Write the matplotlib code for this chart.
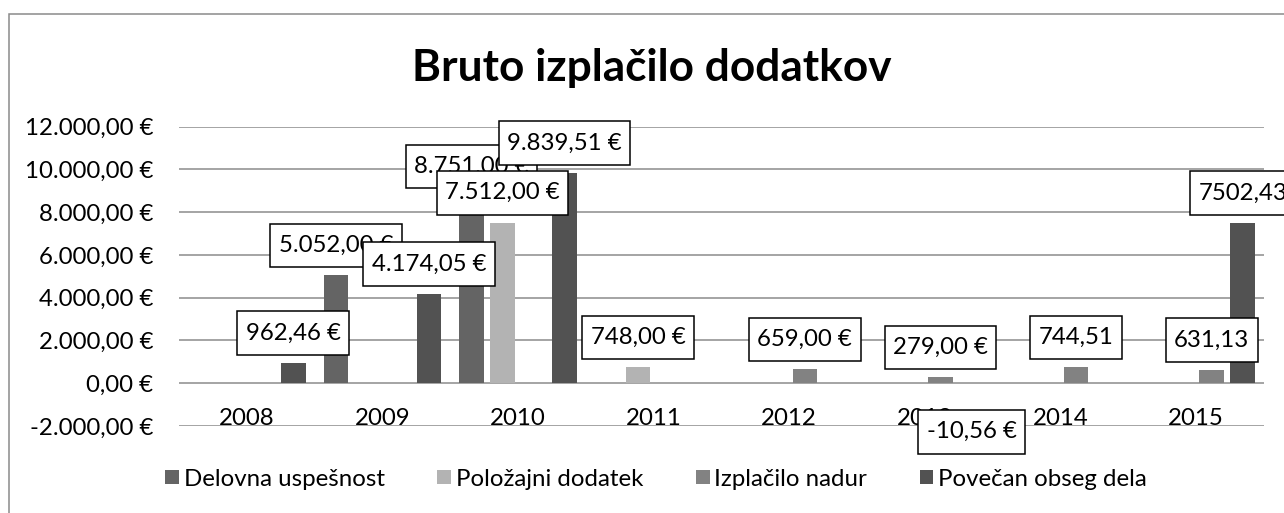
import numpy as np
import matplotlib
matplotlib.use("Agg")
import matplotlib.pyplot as plt
from matplotlib.patches import Rectangle
from matplotlib.path import Path
from matplotlib.ticker import FuncFormatter

# podatki
years = ["2008", "2009", "2010", "2011", "2012", "2013", "2014", "2015"]
series_names = ["Delovna uspešnost", "Položajni dodatek", "Izplačilo nadur", "Povečan obseg dela"]
nan = np.nan
delovna = [nan, 5052.00, 8751.00, nan, nan, nan, nan, nan]
polozajni = [nan, nan, 7512.00, 748.00, nan, nan, nan, nan]
nadure = [nan, nan, nan, nan, 659.00, 279.00, 744.51, 631.13]
obseg = [962.46, 4174.05, 9839.51, nan, nan, -10.56, nan, 7502.43]

# oznake podatkov, kot so v izvirni tabeli
delovna_lbl = [None, "5.052,00 €", "8.751,00 €", None, None, None, None, None]
polozajni_lbl = [None, None, "7.512,00 €", "748,00 €", None, None, None, None]
nadure_lbl = [None, None, None, None, "659,00 €", "279,00 €", "744,51", "631,13"]
obseg_lbl = ["962,46 €", "4.174,05 €", "9.839,51 €", None, None, "-10,56 €", None, "7502,43"]

y_ticks = [-2000, 0, 2000, 4000, 6000, 8000, 10000, 12000]
colors = ["#646464", "#b3b3b3", "#828282", "#525252"]

plt.rcParams["font.family"] = ["Lato", "DejaVu Sans"]
FS = 17.3  # pt


def eur_fmt(v, pos=None):
    s = f"{abs(v):,.2f}".replace(",", " ").replace(".", ",").replace(" ", ".")
    return ("-" if v < 0 else "") + s + " €"


def tall_box(x0, y0, width, height, mutation_size):
    # pravokotnik z večjim navpičnim odmikom (kot v Excelu)
    px = 0.35 * mutation_size
    py = 0.47 * mutation_size
    x0, y0 = x0 - px, y0 - py
    x1, y1 = x0 + width + 2 * px, y0 + height + 2 * py
    return Path([(x0, y0), (x1, y0), (x1, y1), (x0, y1), (x0, y0)], closed=True)


def main():
    fig = plt.figure(figsize=(12.84, 5.13), dpi=100)
    W, H = 1284, 513

    # okvir grafikona (desni in spodnji rob sta odrezana)
    fig.patches.append(Rectangle((9 / W, -0.1), 1.2, 1 - 14 / H + 0.1, transform=fig.transFigure,
                                 fill=False, edgecolor="#8a8a8a", lw=1.1))

    ax = fig.add_axes([179 / W, 1 - 426 / H, (1264 - 179) / W, (426 - 126.7) / H])
    ax.set_facecolor("none")

    data = [delovna, polozajni, nadure, obseg]
    labels = [delovna_lbl, polozajni_lbl, nadure_lbl, obseg_lbl]
    x = np.arange(len(years))
    slot = 0.2286
    width = 0.18

    handles = []
    for i, (vals, col) in enumerate(zip(data, colors)):
        pos = x + (i - 1.5) * slot
        b = ax.bar(pos, vals, width=width, color=col, zorder=2, label=series_names[i])
        handles.append(b)

    # oznake podatkov (zaporedje serij določa prekrivanje)
    for i, (vals, lbls) in enumerate(zip(data, labels)):
        pos = x + (i - 1.5) * slot
        for px, v, t in zip(pos, vals, lbls):
            if t is None:
                continue
            if v >= 0:
                off, va = 13.9, "bottom"
            else:
                off, va = -27.2, "top"
            ax.annotate(t, (px, v), xytext=(0, off), textcoords="offset points",
                        ha="center", va=va, fontsize=FS, color="black", zorder=5 + i,
                        annotation_clip=False,
                        bbox=dict(boxstyle=tall_box, fc="white", ec="black", lw=1.1))

    ax.set_xlim(-0.5, len(years) - 0.5)
    ax.set_ylim(-2000, 12000)
    ax.set_yticks(y_ticks)
    ax.yaxis.set_major_formatter(FuncFormatter(eur_fmt))
    ax.set_xticks(x)
    ax.set_xticklabels(years)
    for lbl in ax.get_xticklabels():
        lbl.set_verticalalignment("baseline")
    ax.tick_params(axis="x", length=0, pad=-1.0, labelsize=FS)
    ax.tick_params(axis="y", length=0, pad=18.7, labelsize=FS)
    ax.grid(axis="y", color="#8c8c8c", lw=1.1)
    ax.set_axisbelow(True)
    for s in ax.spines.values():
        s.set_visible(False)

    fig.text(652 / W, 1 - 81 / H, "Bruto izplačilo dodatkov", ha="center", va="baseline",
             fontsize=31.8, fontweight="bold")

    fig.legend(handles=handles, loc="center", bbox_to_anchor=(656 / W, 1 - 479 / H), ncol=4,
               frameon=False, fontsize=FS, handlelength=0.58, handleheight=0.58,
               handletextpad=0.2, columnspacing=2.18, borderaxespad=0)

    fig.savefig("out.png", dpi=100)
    plt.close(fig)


if __name__ == "__main__":
    main()
